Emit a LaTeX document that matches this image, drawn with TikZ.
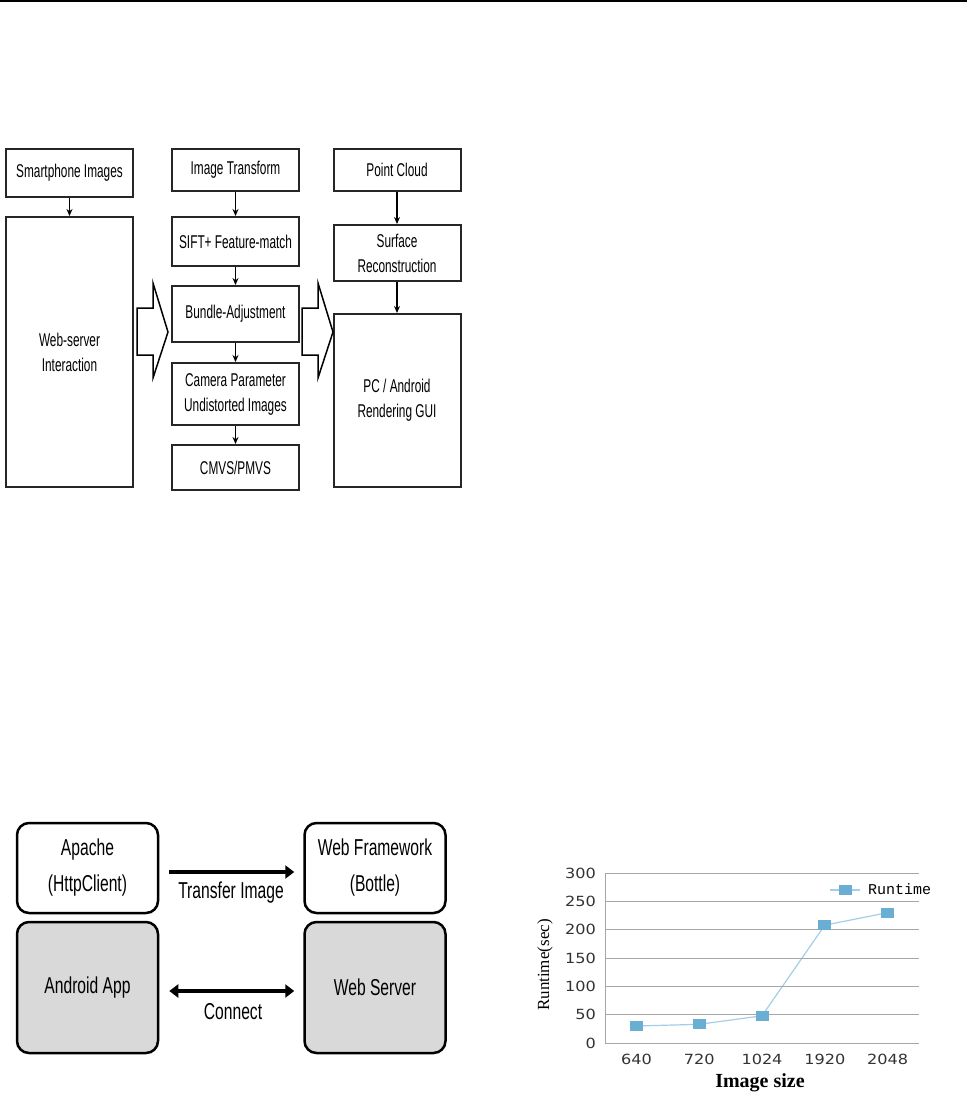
\documentclass[tikz,border=0pt]{standalone}
\usepackage{fontspec}
\usepackage{tikz}
\usetikzlibrary{arrows.meta,positioning,backgrounds}
\setmainfont{Liberation Sans}
\newfontfamily\narrowsans{Liberation Sans}[FakeStretch=0.64]
\newfontfamily\appsans{Liberation Sans}[FakeStretch=0.68]
\newfontfamily\chartsans{DejaVu Sans}[FakeStretch=1.15]
\newfontfamily\chartmono{Liberation Mono}
\newfontfamily\chartserif{Liberation Serif}
\definecolor{panel}{HTML}{D9D9D9}
\definecolor{marker}{HTML}{6AAFD3}
\definecolor{trace}{HTML}{A3CEE6}
\definecolor{gridgray}{HTML}{A6A6A6}
\definecolor{edge}{HTML}{262626}

\begin{document}
\begin{tikzpicture}[x=1pt,y=-1pt, every node/.style={inner sep=0pt}, flowbox/.style={draw=edge,line width=2pt,align=center,minimum width=127pt,font=\narrowsans\fontsize{18.5}{25}\selectfont}, appbox/.style={draw=black,line width=2.5pt,rounded corners=12pt,align=center,minimum width=141pt,minimum height=90pt,font=\appsans\fontsize{23}{36}\selectfont}, flow/.style={-{Stealth[length=7pt,width=6pt]},line width=1.4pt}, link/.style={-{Triangle[length=9pt,width=13pt]},line width=4pt}, block/.style={draw=black,line width=1.5pt,fill=white}, lbl/.style={font=\appsans\fontsize{23}{27}\selectfont}, dot/.style={fill=marker,minimum width=13pt,minimum height=10pt}, tick/.style={text=black!80,font=\chartsans\fontsize{14}{14}\selectfont}, trace/.style={draw=trace,line width=1.2pt}, gridline/.style={draw=gridgray,line width=1pt}]
\useasboundingbox (0,0) rectangle (967,1100);
\draw[line width=1.5pt] (0,1) -- (967,1);

% pipeline
\node[flowbox,minimum height=48pt] (smart) at (69.5,173) {Smartphone Images};
\node[flowbox,minimum height=270pt] (websrv) at (69.5,352) {Web-server\\Interaction};
\node[flowbox,minimum height=42pt] (trans) at (235.5,170) {Image Transform};
\node[flowbox,minimum height=49pt] (sift) at (235.5,241.5) {SIFT+ Feature-match};
\node[flowbox,minimum height=56pt] (bundle) at (235.5,314) {Bundle-Adjustment};
\node[flowbox,minimum height=62pt] (camera) at (235.5,394) {Camera Parameter\\Undistorted Images};
\node[flowbox,minimum height=45pt] (cmvs) at (235.5,467.5) {CMVS/PMVS};
\node[flowbox,minimum height=42pt] (cloud) at (397,170) {Point Cloud};
\node[flowbox,minimum height=56pt] (surface) at (397,253) {Surface\\Reconstruction};
\node[flowbox,minimum height=173pt] (gui) at (397,400.5) {PC / Android\\Rendering GUI};
\draw[flow] (smart) -- (websrv);
\draw[flow] (trans) -- (sift);
\draw[flow] (sift) -- (bundle);
\draw[flow] (bundle) -- (camera);
\draw[flow] (camera) -- (cmvs);
\draw[flow] (cloud) -- (surface);
\draw[flow] (surface) -- (gui);
\foreach \dx in {0,165}
  \draw[block,xshift=\dx pt] (137,308) -- (153,308) -- (153,283) -- (168,332) -- (153,378) -- (153,355) -- (137,355) -- cycle;

% client / server
\node[appbox] (apache) at (87.5,868) {Apache\\(HttpClient)};
\node[appbox] (frame) at (375,868) {Web Framework\\(Bottle)};
\node[appbox,fill=panel,minimum height=131pt] (android) at (87.5,987.5) {Android App};
\node[appbox,fill=panel,minimum height=131pt] (server) at (375,987.5) {Web Server};
\draw[link,shorten <=10pt,shorten >=9pt] ([yshift=-4pt]apache.east) -- ([yshift=-4pt]frame.west);
\draw[link,{Triangle[length=9pt,width=13pt]}-{Triangle[length=9pt,width=13pt]},shorten <=10pt,shorten >=9pt] ([yshift=-3.5pt]android.east) -- ([yshift=-3.5pt]server.west);
\node[lbl] (xfer) at (231,893) {Transfer Image};
\node[lbl] (conn) at (233,1012) {Connect};

% runtime chart
\foreach \v in {50,100,...,300}
  \draw[gridline] (605,{1043-\v*0.5667}) -- (919,{1043-\v*0.5667});
\draw[gridline] (605,873) -- (605,1043) -- (919,1043);
\foreach \v in {0,50,...,300}
  \node[tick,anchor=east] at (596,{1043-\v*0.5667}) {\v};
\foreach \i/\v/\n in {0/30/640,1/33/720,2/48/1024,3/208/1920,4/230/2048} {
  \node[dot] (p\i) at ({636.4+62.8*\i},{1043-\v*0.5667}) {};
  \node[tick] (x\i) at ({636.4+62.8*\i},1059) {\n};
}
\begin{scope}[on background layer]
\draw[trace] (p0.center) -- (p1.center) -- (p2.center) -- (p3.center) -- (p4.center);
\end{scope}
\coordinate (keyl) at (830,890);
\coordinate (keyr) at (860,890);
\draw[trace] (keyl) -- (keyr);
\node[dot] (key) at (845,890) {};
\node[anchor=west,font=\chartmono\fontsize{15}{15}\selectfont] (keytext) at (868,889) {Runtime};
\node[rotate=90,font=\chartserif\fontsize{17}{17}\selectfont] (ytitle) at (545,965) {Runtime(sec)};
\node[font=\chartserif\bfseries\fontsize{20}{20}\selectfont] (xtitle) at (760,1083) {Image size};
\end{tikzpicture}
\end{document}
